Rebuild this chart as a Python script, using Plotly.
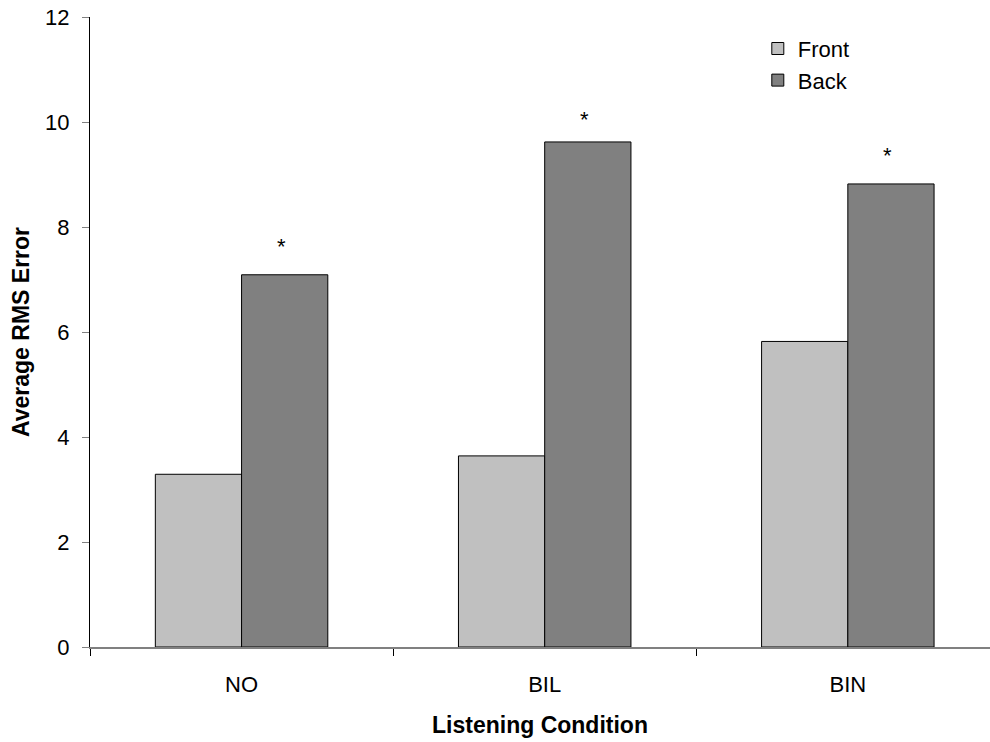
import plotly.graph_objects as go

categories = ["NO", "BIL", "BIN"]
front = [3.29, 3.64, 5.82]
back = [7.09, 9.62, 8.82]
star_y = [7.68, 10.10, 9.41]
series_names = ["Front", "Back"]
y_ticks = [0, 2, 4, 6, 8, 10, 12]

FONT = "Liberation Sans, Arial, sans-serif"

fig = go.Figure()
fig.add_trace(go.Bar(x=categories, y=front, name=series_names[0],
                     marker=dict(color="#C0C0C0", line=dict(color="#000000", width=1)),
                     legendgroup="f"))
fig.add_trace(go.Bar(x=categories, y=back, name=series_names[1],
                     marker=dict(color="#808080", line=dict(color="#000000", width=1)),
                     legendgroup="b"))

bargap = 0.431
half_bar = (1 - bargap) / 4
for i, (c, sy) in enumerate(zip(categories, star_y)):
    fig.add_annotation(x=i + half_bar, y=sy, xref="x", yref="y", text="*",
                       showarrow=False, xshift=-3, yshift=-3,
                       font=dict(family=FONT, size=22, color="#000000"))

fig.update_layout(
    width=990, height=742,
    margin=dict(l=90, r=0, t=17, b=95),
    paper_bgcolor="white", plot_bgcolor="white",
    barmode="group", bargap=bargap, bargroupgap=0,
    font=dict(family=FONT, size=22, color="#000000"),
    showlegend=True,
    legend=dict(x=0.742, y=0.983, xanchor="left", yanchor="top",
                bgcolor="rgba(0,0,0,0)", tracegroupgap=12, traceorder="normal",
                font=dict(family=FONT, size=22, color="#000000")),
)
fig.update_xaxes(
    type="category", range=[-0.5, 2.469], tickson="boundaries",
    showline=True, linecolor="#808080", linewidth=2,
    ticks="outside", ticklen=7, tickcolor="#000000", tickwidth=1,
    ticklabelstandoff=17, showgrid=False, zeroline=False,
    title=dict(text="<b>Listening Condition</b>", standoff=20,
               font=dict(family=FONT, size=23, color="#000000")),
)
fig.update_yaxes(
    range=[0, 12], tickvals=y_ticks, ticktext=[str(v) for v in y_ticks],
    showline=True, linecolor="#000000", linewidth=1,
    ticks="outside", ticklen=7, tickcolor="#808080", tickwidth=1,
    ticklabelstandoff=8, showgrid=False, zeroline=False,
    title=dict(text="<b>Average RMS Error</b>", standoff=9,
               font=dict(family=FONT, size=23, color="#000000")),
)

fig.write_html("out.html")
